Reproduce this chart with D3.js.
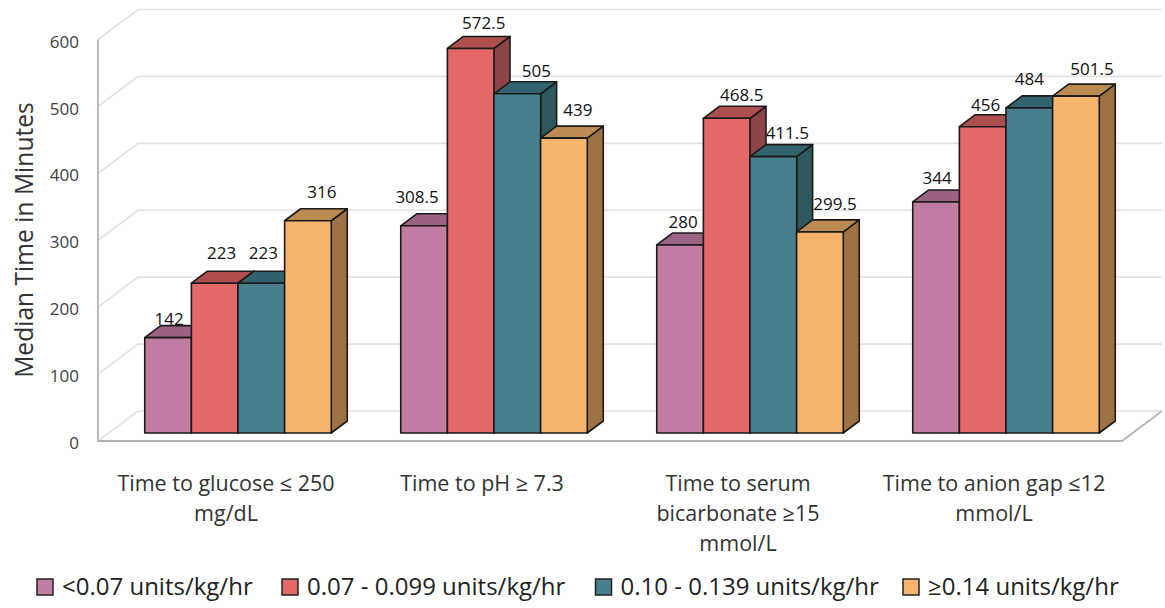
<!DOCTYPE html>
<html><head><meta charset="utf-8">
<script src="https://cdn.jsdelivr.net/npm/d3@7"></script>
<style>html,body{margin:0;padding:0;background:#fff}svg{display:block}text{font-family:"Open Sans",sans-serif}</style>
</head><body><svg id="c" width="1165" height="608"></svg>
<script>
const categories=[["Time to glucose ≤ 250","mg/dL"],["Time to pH ≥ 7.3"],["Time to serum","bicarbonate ≥15","mmol/L"],["Time to anion gap ≤12","mmol/L"]];
const seriesNames=["<0.07 units/kg/hr","0.07 - 0.099 units/kg/hr","0.10 - 0.139 units/kg/hr","≥0.14 units/kg/hr"];
const lowest=[142,308.5,280,344];
const low=[223,572.5,468.5,456];
const high=[223,505,411.5,484];
const highest=[316,439,299.5,501.5];
const yTicks=[0,100,200,300,400,500,600];
const seriesValues=[lowest,low,high,highest];
const frontColors=["#C27BA3","#E36767","#488090","#F6B46D"];
const topColors=["#9B6383","#AE4E4E","#33626F","#BC8B52"];
const sideColors=["#7E4F6A","#8F4448","#2D5860","#9E7245"];
// hand-placed label nudges, per series then category
const labelDx=[[1,-7,3,1],[7,13,15,3],[2,19,14,0],[14,14,15,16]];
const labelDy=[[-19,-29,-23,-24],[-30,-25,-23,-22],[-30,-23,-24,-29],[-29,-28,-28,-27]];

const svg=d3.select("#c");
const depth={x:40,y:-30}, barDepth={x:16,y:-12};
const floorY=441, floorLeft=98, floorRight=1122, floorShift=12;
const axisY=d3.scaleLinear().domain([0,600]).range([floorY,39.5]);
const barY=d3.scaleLinear().domain([0,600]).range([433,30]);
const groupX=d3.scaleBand().domain(d3.range(categories.length)).range([floorLeft,floorRight]);
const barX=d3.scaleBand().domain(d3.range(seriesNames.length)).range([0,186.5]);
const groupInset=(groupX.bandwidth()-barX.range()[1])/2+floorShift;

const grid=svg.append("g").attr("fill","none").attr("stroke","#E2E2E2").attr("stroke-width",1.6);
yTicks.forEach(t=>{
  const y=axisY(t);
  grid.append("path").attr("d",d3.line()([[floorLeft,y],[floorLeft+depth.x,y+depth.y],[floorRight+depth.x,y+depth.y]]));
});
svg.append("path").attr("fill","none").attr("stroke","#B4B4B4").attr("stroke-width",1.8)
  .attr("d",d3.line()([[floorLeft,axisY(600)],[floorLeft,floorY],[floorRight,floorY],[floorRight+depth.x,floorY+depth.y]]));

const axis=svg.append("g").attr("transform",`translate(${floorLeft},0)`)
  .call(d3.axisLeft(axisY).tickValues(yTicks).tickSize(0).tickPadding(19));
axis.select(".domain").remove();
axis.selectAll("text").attr("font-size",17).attr("fill","#404040").attr("dy","0.45em").style("font-family",'"Open Sans",sans-serif');

const bars=svg.append("g").attr("stroke","#1A1A1A").attr("stroke-width",1.6).attr("stroke-linejoin","round");
categories.forEach((_,c)=>{
  seriesValues.forEach((vals,s)=>{
    const x0=groupX(c)+groupInset+barX(s), x1=x0+barX.bandwidth();
    const y0=barY(0), y1=barY(vals[c]);
    const dx=barDepth.x, dy=barDepth.y, line=d3.line();
    bars.append("path").attr("fill",sideColors[s]).attr("d",line([[x1,y0],[x1+dx,y0+dy],[x1+dx,y1+dy],[x1,y1]])+"Z");
    bars.append("path").attr("fill",topColors[s]).attr("d",line([[x0,y1],[x0+dx,y1+dy],[x1+dx,y1+dy],[x1,y1]])+"Z");
    bars.append("path").attr("fill",frontColors[s]).attr("d",line([[x0,y0],[x1,y0],[x1,y1],[x0,y1]])+"Z");
  });
});
const labels=svg.append("g").attr("font-size",17).attr("fill","#111").attr("text-anchor","middle");
categories.forEach((_,c)=>{
  seriesValues.forEach((vals,s)=>{
    const x=groupX(c)+groupInset+barX(s)+barX.bandwidth()/2;
    labels.append("text").attr("x",x+labelDx[s][c]).attr("y",barY(vals[c])+labelDy[s][c]).attr("dy","0.35em").text(vals[c]);
  });
});
const cat=svg.append("g").attr("font-size",21.5).attr("fill","#333").attr("text-anchor","middle");
categories.forEach((lines,c)=>{
  lines.forEach((l,i)=>cat.append("text").attr("x",groupX(c)+groupX.bandwidth()/2).attr("y",483+i*30).attr("dy","0.35em").text(l));
});
svg.append("text").attr("transform","translate(24,240) rotate(-90)").attr("text-anchor","middle").attr("dy","0.35em")
  .attr("font-size",24.6).attr("fill","#333").text("Median Time in Minutes");
const legendX=d3.scaleOrdinal().domain(seriesNames).range([37,282,595.5,903]);
const leg=svg.append("g");
seriesNames.forEach((n,s)=>{
  const x=legendX(n);
  leg.append("rect").attr("x",x).attr("y",579).attr("width",16).attr("height",16).attr("fill",frontColors[s]).attr("stroke","#222").attr("stroke-width",1.5);
  leg.append("text").attr("x",x+25).attr("y",587).attr("dy","0.35em").attr("font-size",24).attr("fill","#222").text(n);
});
</script></body></html>
